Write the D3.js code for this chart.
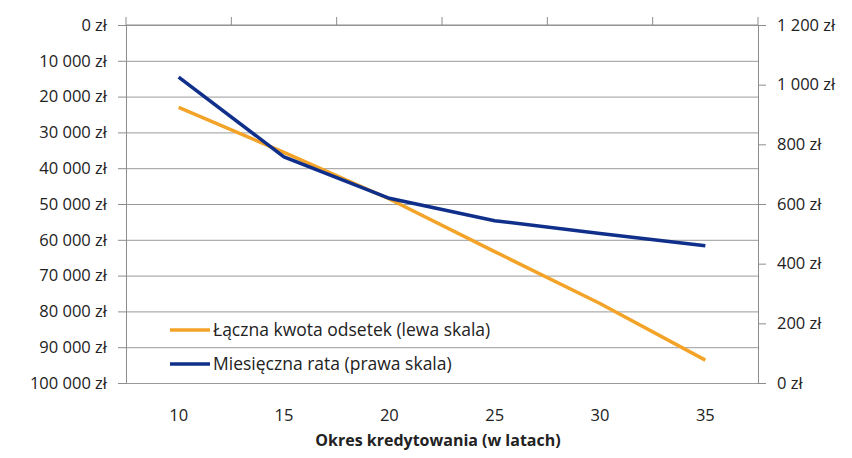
<!DOCTYPE html>
<html>
<head>
<meta charset="utf-8">
<script src="https://cdn.jsdelivr.net/npm/d3@7"></script>
<style>
  body { margin: 0; background: #fff; }
  text { font-family: "Open Sans", "Liberation Sans", sans-serif; fill: #222; }
  .ejes path, .ejes line { stroke: #8c8c8c; }
  .grid line { stroke: #9a9a9a; }
  .grid path { display: none; }
</style>
</head>
<body>
<div id="graf"></div>
<script>
// dane
const lata = [10, 15, 20, 25, 30, 35]
const odsetki = [23000, 35600, 48600, 63300, 77800, 93600]   // lewa skala
const rata = [1025, 758, 619, 544, 501, 460]                  // prawa skala
const ticksLewa = [0, 10000, 20000, 30000, 40000, 50000, 60000, 70000, 80000, 90000, 100000]
const ticksPrawa = [0, 200, 400, 600, 800, 1000, 1200]
const nazwy = ["Łączna kwota odsetek (lewa skala)", "Miesięczna rata (prawa skala)"]
const kolory = ["#F3A428", "#0F2F8A"]

const anchoTotal = 852, altoTotal = 458
const margins = { left: 126, top: 25, right: 94, bottom: 75 }
const ancho = anchoTotal - margins.left - margins.right
const alto = altoTotal - margins.top - margins.bottom

const pl = d3.formatLocale({ decimal: ",", thousands: " ", grouping: [3], currency: ["", " zł"] })
const fmt = pl.format("$,.0f")

const svg = d3.select("#graf").append("svg")
  .attr("width", anchoTotal).attr("height", altoTotal)
const g = svg.append("g").attr("transform", `translate(${margins.left}, ${margins.top})`)

const x = d3.scaleBand().domain(lata).range([0, ancho])
const yL = d3.scaleLinear().domain([0, 100000]).range([0, alto])   // odwrócona
const yR = d3.scaleLinear().domain([0, 1200]).range([alto, 0])

// siatka
g.append("g").attr("class", "grid")
  .call(d3.axisLeft(yL).tickValues(ticksLewa).tickSize(-ancho).tickFormat(""))

// oś lewa
g.append("g").attr("class", "ejes")
  .call(d3.axisLeft(yL).tickValues(ticksLewa).tickSize(8).tickSizeOuter(0).tickFormat(fmt))
  .call(s => s.selectAll("text").attr("x", -19).style("font-size", "16.5px"))

// oś prawa
g.append("g").attr("class", "ejes").attr("transform", `translate(${ancho}, 0)`)
  .call(d3.axisRight(yR).tickValues(ticksPrawa).tickSize(8).tickSizeOuter(0).tickFormat(fmt))
  .call(s => s.selectAll("text").attr("x", 19).style("font-size", "16.5px"))

// oś kategorii u góry (znaczniki między kategoriami)
const granice = d3.range(lata.length + 1).map(i => i * x.step())
const osX = g.append("g").attr("class", "ejes")
osX.append("line").attr("x1", 0).attr("x2", ancho).attr("y1", 0).attr("y2", 0)
osX.selectAll("line.t").data(granice).enter().append("line").attr("class", "t")
  .attr("x1", d => d).attr("x2", d => d).attr("y1", 0).attr("y2", -8)

// etykiety kategorii na dole
g.selectAll("text.kat").data(lata).enter().append("text")
  .attr("class", "kat")
  .attr("x", d => x(d) + x.bandwidth() / 2)
  .attr("y", alto + 38)
  .attr("text-anchor", "middle")
  .style("font-size", "16.5px")
  .text(d => d)

g.append("text")
  .attr("x", (313 + 563) / 2 - margins.left)
  .attr("y", alto + 63)
  .attr("text-anchor", "middle")
  .style("font-size", "16px")
  .style("font-weight", "bold")
  .text("Okres kredytowania (w latach)")

// linie
const lineaL = d3.line().x((d, i) => x(lata[i]) + x.bandwidth() / 2).y(d => yL(d))
const lineaR = d3.line().x((d, i) => x(lata[i]) + x.bandwidth() / 2).y(d => yR(d))

g.append("path").datum(odsetki).attr("d", lineaL)
  .attr("fill", "none").attr("stroke", kolory[0]).attr("stroke-width", 3.5)
g.append("path").datum(rata).attr("d", lineaR)
  .attr("fill", "none").attr("stroke", kolory[1]).attr("stroke-width", 3.5)

// legenda
const leg = g.append("g").attr("transform", `translate(${170 - margins.left}, ${330 - margins.top})`)
nazwy.forEach((n, i) => {
  const r = leg.append("g").attr("transform", `translate(0, ${i * 34})`)
  r.append("line").attr("x1", 0).attr("x2", 40).attr("y1", 0).attr("y2", 0)
    .attr("stroke", kolory[i]).attr("stroke-width", 3.5)
  r.append("text").attr("x", 43).attr("y", 0).attr("dy", "0.35em")
    .style("font-size", "17.5px").text(n)
})
</script>
</body>
</html>
